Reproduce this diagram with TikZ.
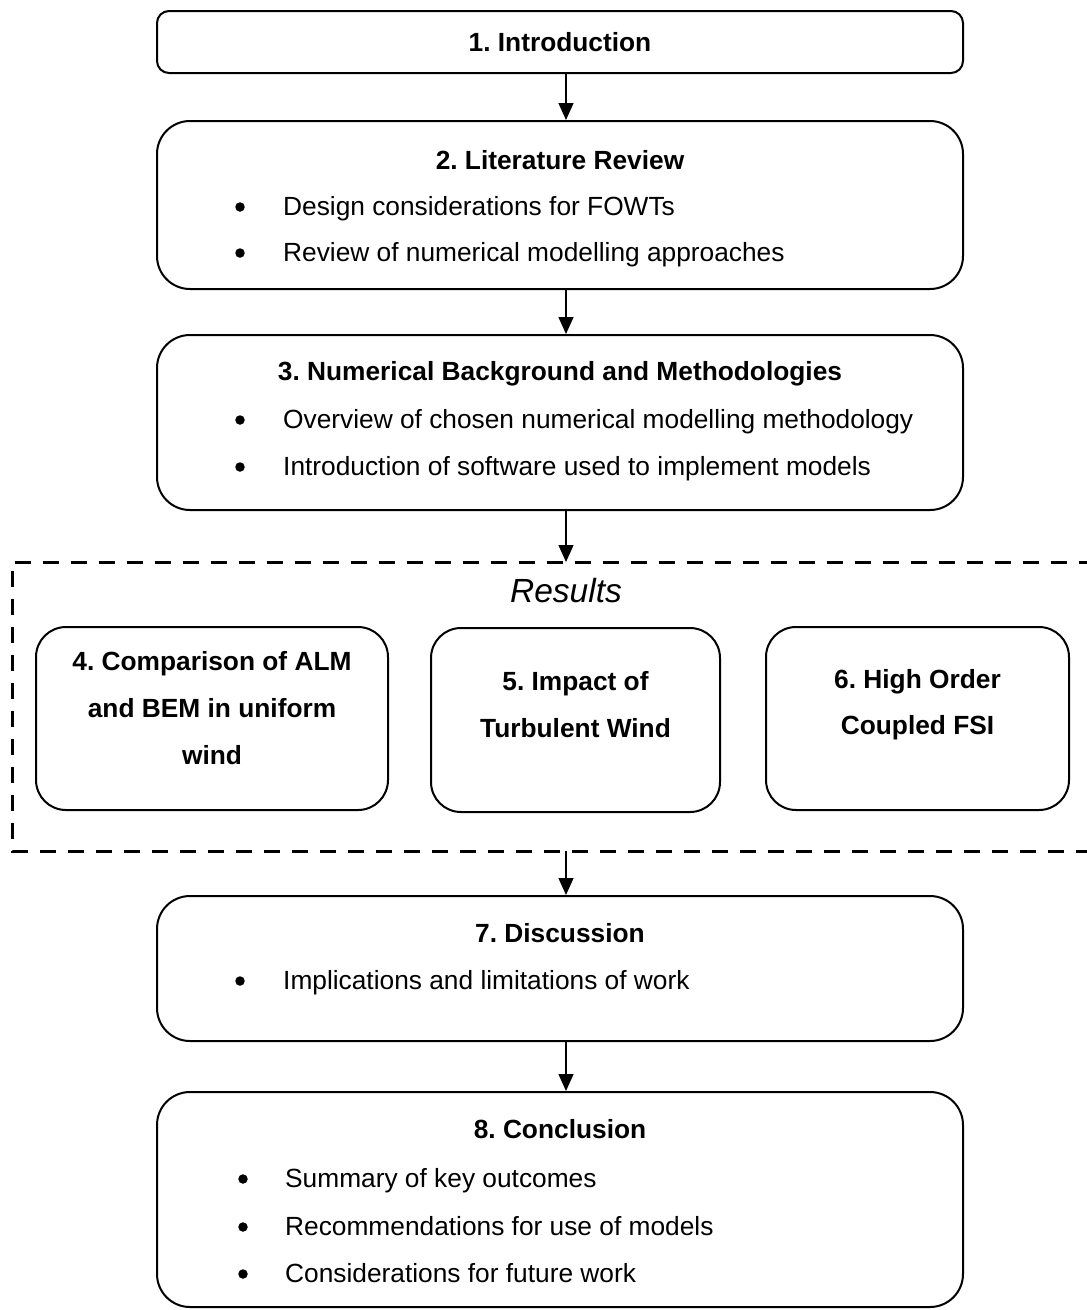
\documentclass[tikz,border=0pt]{standalone}
\usepackage{fontspec}
\setmainfont{Liberation Sans}
\usetikzlibrary{arrows.meta}
\newcommand\diagsize{\fontsize{26.3}{30}\selectfont}
\frenchspacing
\begin{document}
\begin{tikzpicture}[x=1pt,y=-1pt,
  box/.style={draw, line width=2pt, rounded corners=33pt, inner sep=0pt},
  head/.style={font=\diagsize\bfseries, anchor=base, inner sep=0pt},
  item/.style={font=\diagsize, anchor=base west, inner sep=0pt},
  dot/.style={circle, fill, inner sep=0pt, minimum size=9.5pt},
  link/.style={-{Triangle[width=15pt,length=17pt]}, line width=1.2pt},
  frame/.style={line width=3pt, dash pattern=on 16pt off 12pt}
]
\useasboundingbox (0,0) rectangle (1087,1310);

% column of the connecting arrows
\coordinate (col) at (566,0);

% 1. Introduction
\node[box, rounded corners=12pt, minimum width=806pt, minimum height=62pt] (b1) at (560,42) {};
\node[head] (t1) at (560,51) {1. Introduction};

% 2. Literature Review
\node[box, minimum width=806pt, minimum height=168pt] (b2) at (560,205) {};
\node[head] (t2) at (560,169) {2. Literature Review};
\node[dot] (d21) at (240,207) {};
\node[item] (i21) at (283,215) {Design considerations for FOWTs};
\node[dot] (d22) at (240,253) {};
\node[item] (i22) at (283,261) {Review of numerical modelling approaches};

% 3. Numerical Background and Methodologies
\node[box, minimum width=806pt, minimum height=175pt] (b3) at (560,422.5) {};
\node[head] (t3) at (560,380) {3. Numerical Background and Methodologies};
\node[dot] (d31) at (240,420) {};
\node[item] (i31) at (283,428) {Overview of chosen numerical modelling methodology};
\node[dot] (d32) at (240,467) {};
\node[item] (i32) at (283,475) {Introduction of software used to implement models};

% Results group (dashed frame, open to the right)
\coordinate (rnw) at (12,562);
\coordinate (rsw) at (12,851);
\coordinate (rne) at (1095,562);
\coordinate (rse) at (1095,851);
\draw[frame] (rne) -- (rnw) -- (rsw) -- (rse);
\node[font=\fontsize{33.5}{38}\selectfont\itshape, anchor=base, inner sep=0pt] (res) at (566,602) {Results};

\node[box, rounded corners=30pt, minimum width=352pt, minimum height=183pt] (b4) at (212,718.5) {};
\node[head] (t4a) at (212,670) {4. Comparison of ALM};
\node[head] (t4b) at (212,717) {and BEM in uniform};
\node[head] (t4c) at (212,764) {wind};

\node[box, rounded corners=30pt, minimum width=289pt, minimum height=184pt] (b5) at (575.5,720) {};
\node[head] (t5a) at (575.5,690) {5. Impact of};
\node[head] (t5b) at (575.5,737) {Turbulent Wind};

\node[box, rounded corners=30pt, minimum width=303pt, minimum height=183pt] (b6) at (917.5,718.5) {};
\node[head] (t6a) at (917.5,688) {6. High Order};
\node[head] (t6b) at (917.5,734) {Coupled FSI};

% 7. Discussion
\node[box, minimum width=806pt, minimum height=145pt] (b7) at (560,968.5) {};
\node[head] (t7) at (560,942) {7. Discussion};
\node[dot] (d71) at (240,981) {};
\node[item] (i71) at (283,989) {Implications and limitations of work};

% 8. Conclusion
\node[box, minimum width=806pt, minimum height=215pt] (b8) at (560,1199.5) {};
\node[head] (t8) at (560,1138) {8. Conclusion};
\node[dot] (d81) at (243,1179) {};
\node[item] (i81) at (285,1187) {Summary of key outcomes};
\node[dot] (d82) at (243,1227) {};
\node[item] (i82) at (285,1235) {Recommendations for use of models};
\node[dot] (d83) at (243,1274) {};
\node[item] (i83) at (285,1282) {Considerations for future work};

% connectors
\draw[link] (b1.south -| col) -- (b2.north -| col);
\draw[link] (b2.south -| col) -- (b3.north -| col);
\draw[link] (b3.south -| col) -- (rnw -| col);
\draw[link] (rsw -| col) -- (b7.north -| col);
\draw[link] (b7.south -| col) -- (b8.north -| col);
\end{tikzpicture}
\end{document}
